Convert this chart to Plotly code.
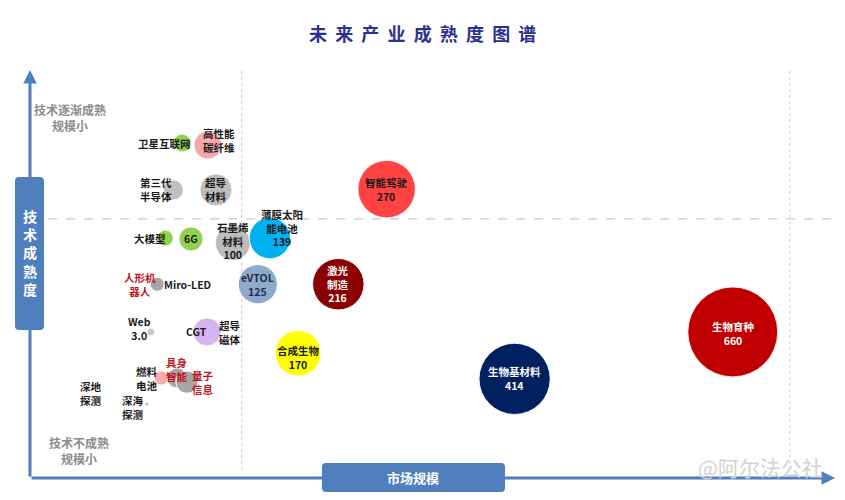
import plotly.graph_objects as go

# ---------------- data ----------------
names = ["卫星互联网", "高性能碳纤维", "第三代半导体", "超导材料", "大模型", "6G",
         "石墨烯材料", "薄膜太阳能电池", "智能驾驶", "eVTOL", "激光制造", "合成生物",
         "生物基材料", "生物育种", "人形机器人", "Web 3.0", "CGT", "燃料电池",
         "具身智能", "量子信息", "深海探测"]
labels = ["卫星互联网", "高性能<br>碳纤维", "第三代<br>半导体", "超导<br>材料", "大模型", "6G",
          "石墨烯<br>材料", "薄膜太阳<br>能电池", "智能驾驶", "eVTOL", "激光<br>制造", "合成生物",
          "生物基材料", "生物育种", "人形机<br>器人", "Web<br>3.0", "CGT", "燃料<br>电池",
          "具身<br>智能", "量子<br>信息", "深海<br>探测"]
# market scale index (x) and technology maturity index (y), 0-100
market = [18.9, 22.1, 17.8, 23.1, 16.8, 20.0, 25.2, 29.8, 44.3, 28.3, 38.3, 33.3,
          60.2, 87.3, 15.8, 15.0, 22.0, 16.3, 18.3, 19.5, 14.5]
maturity = [82.1, 81.6, 70.6, 70.6, 58.8, 58.6, 57.6, 58.8, 70.8, 47.5, 47.5, 30.6,
            24.3, 35.8, 47.5, 35.8, 35.8, 24.5, 24.5, 23.5, 18.1]
# market size (labelled values; unlabelled ones)
size_value = [26, 64, 33, 84, 21, 47, 100, 139, 270, 125, 216, 170,
              414, 660, 16, 5, 64, 16, 33, 40, 1]
shown_value = [None, None, None, None, None, None, 100, 139, 270, 125, 216, 170,
               414, 660, None, None, None, None, None, None, None]

extra_labels = ["Miro-LED", "超导<br>磁体"]
extra_anchor = ["人形机器人", "CGT"]
free_label = "深地<br>探测"
free_market, free_maturity = 7.6, 20.8

quadrant_x = [26.3, 94.4]
quadrant_y = 63.5

# ---------------- styles ----------------
colors = ["#92d050", "#f5a8aa", "#c0c0c0", "#bdbdbd", "#92d050", "#92d050",
          "#bdbdbd", "#00b0f0", "#ff4343", "#8eaacb", "#8b0000", "#ffff00",
          "#002060", "#c00000", "#a6a6a6", "#c8c8c8", "#d6b4f2", "#ffabab",
          "#a6a6a6", "#a6a6a6", "#bfbfbf"]
txt_colors = ["#1a1a1a"] * 21
for i in (10, 12, 13):
    txt_colors[i] = "#ffffff"
txt_colors[9] = "#1f2d4d"
for i in (14, 18, 19):
    txt_colors[i] = "#c0141c"
label_dx = [-18, 11, -17, 0, -15, 0, 0, 12, 0, 0, 0, 0, 0, 0, -17, -11, -11, -14, 0, 16, -14]
label_dy = [0, 5, 0, 0, 0, 0, 2, 10, 0, 0, 0, -4, 0, -2, 0, 3, 0, 0, 9, 0, -3]
extra_dx = [30, 23]
extra_dy = [0, -1]

FONT = "Noto Sans CJK SC"
AXIS_BLUE = "#4f7fbd"

fig = go.Figure()
fig.add_trace(go.Scatter(
    x=market, y=maturity, mode="markers",
    marker=dict(size=size_value, sizemode="area", sizeref=1 / 6.125, sizemin=2,
                color=colors, opacity=1, line=dict(color="rgba(255,255,255,0.9)", width=1)),
    hovertext=names, hoverinfo="text", showlegend=False))

annotations = []
for i, lab in enumerate(labels):
    txt = "<b>" + lab + "</b>"
    if shown_value[i] is not None:
        txt += "<br><b>%d</b>" % shown_value[i]
    annotations.append(dict(x=market[i], y=maturity[i], xref="x", yref="y", text=txt,
                            showarrow=False, xshift=label_dx[i], yshift=label_dy[i],
                            xanchor="center", yanchor="middle",
                            font=dict(family=FONT, size=10.5, color=txt_colors[i])))
for lab, anc, dx, dy in zip(extra_labels, extra_anchor, extra_dx, extra_dy):
    j = names.index(anc)
    annotations.append(dict(x=market[j], y=maturity[j], xref="x", yref="y",
                            text="<b>" + lab + "</b>", showarrow=False, xshift=dx, yshift=dy,
                            xanchor="center", yanchor="middle",
                            font=dict(family=FONT, size=10.5, color="#1a1a1a")))
annotations.append(dict(x=free_market, y=free_maturity, xref="x", yref="y",
                        text="<b>" + free_label + "</b>", showarrow=False,
                        xanchor="center", yanchor="middle",
                        font=dict(family=FONT, size=10.5, color="#1a1a1a")))


def px(xp):
    return (xp - 30) / 805.0


def py(yp):
    return (478 - yp) / 408.0


def rounded(x0, y0, x1, y1, r):
    # pixel coords -> paper path with rounded corners
    rx, ry = r / 805.0, r / 408.0
    X0, X1, Y0, Y1 = px(x0), px(x1), py(y1), py(y0)
    return (f"M {X0+rx},{Y0} L {X1-rx},{Y0} Q {X1},{Y0} {X1},{Y0+ry} "
            f"L {X1},{Y1-ry} Q {X1},{Y1} {X1-rx},{Y1} L {X0+rx},{Y1} "
            f"Q {X0},{Y1} {X0},{Y1-ry} L {X0},{Y0+ry} Q {X0},{Y0} {X0+rx},{Y0} Z")


def paper_text(xp, yp, text, size, color):
    return dict(x=px(xp), y=py(yp), xref="paper", yref="paper", text=text, showarrow=False,
                xanchor="center", yanchor="middle",
                font=dict(family=FONT, size=size, color=color))


shapes = [
    dict(type="line", xref="paper", yref="y", x0=0, x1=px(840), y0=quadrant_y, y1=quadrant_y,
         line=dict(color="#bdbdbd", width=1, dash="dash"), layer="below"),
]
for qx in quadrant_x:
    shapes.append(dict(type="line", xref="x", yref="paper", x0=qx, x1=qx, y0=py(470), y1=1,
                       line=dict(color="#c8c8c8", width=1, dash="dot"), layer="below"))

# axis arrows
annotations.append(dict(x=0, y=100, ax=0, ay=0, xref="x", yref="y", axref="x", ayref="y",
                        text="", showarrow=True, arrowhead=2, arrowsize=0.9, arrowwidth=3,
                        arrowcolor=AXIS_BLUE, standoff=0))
annotations.append(dict(x=100, y=0, ax=0, ay=0, xref="x", yref="y", axref="x", ayref="y",
                        text="", showarrow=True, arrowhead=2, arrowsize=0.9, arrowwidth=3,
                        arrowcolor=AXIS_BLUE, standoff=0))

# axis title boxes
shapes.append(dict(type="path", xref="paper", yref="paper", path=rounded(15, 177, 44, 330, 4),
                   fillcolor=AXIS_BLUE, line=dict(width=0), layer="above"))
shapes.append(dict(type="path", xref="paper", yref="paper", path=rounded(322, 463, 505, 492, 4),
                   fillcolor=AXIS_BLUE, line=dict(width=0), layer="above"))

annotations.append(paper_text(29.5, 252, "<b>技<br>术<br>成<br>熟<br>度</b>", 14, "white"))
annotations.append(paper_text(413, 477.5, "<b>市场规模</b>", 13, "white"))

# corner notes
annotations.append(paper_text(70, 117, "<b>技术逐渐成熟<br>规模小</b>", 12, "#8c8c8c"))
annotations.append(paper_text(79, 450, "<b>技术不成熟<br>规模小</b>", 12, "#8c8c8c"))

# title
NB = "\u00a0\u00a0"
annotations.append(paper_text(422, 33, "<b>" + NB.join("未来产业成熟度图谱") + "</b>", 18, "#2b3190"))

# watermark
annotations.append(paper_text(760, 467, "@阿尔法公社", 21, "#d2d2d2"))

fig.update_layout(
    width=845, height=500,
    margin=dict(l=30, r=10, t=70, b=22),
    paper_bgcolor="white", plot_bgcolor="white",
    xaxis=dict(range=[0, 100], visible=False, fixedrange=True),
    yaxis=dict(range=[0, 100], visible=False, fixedrange=True),
    shapes=shapes, annotations=annotations,
)
fig.write_html("out.html", config={"displayModeBar": False},
               post_script="document.body.style.margin='0';document.body.style.overflow='hidden';")
